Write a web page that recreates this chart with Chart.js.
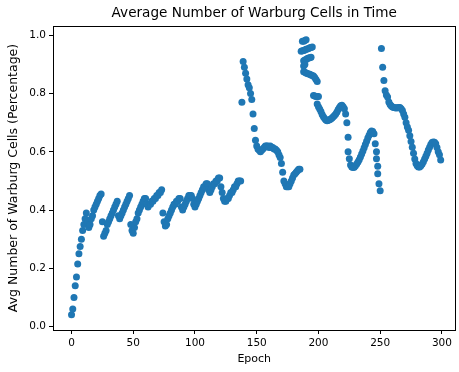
<!DOCTYPE html>
<html>
<head>
<meta charset="utf-8">
<script src="https://cdn.jsdelivr.net/npm/chart.js@4.4.1/dist/chart.umd.min.js"></script>
<style>
  html, body { margin: 0; padding: 0; background: #fff; }
  canvas { display: block; }
</style>
</head>
<body>
<canvas id="warburgChart" width="459" height="372"></canvas>
<script>
// --- data ---
const chartTitle = 'Average Number of Warburg Cells in Time';
const xTitle = 'Epoch';
const yTitle = 'Avg Number of Warburg Cells (Percentage)';

const xTicks = [0, 50, 100, 150, 200, 250, 300];
const yTicks = [0.0, 0.2, 0.4, 0.6, 0.8, 1.0];

// epochs 0..137, one value each
const warmupStart = 0;
const warmupValues = [
  0.04, 0.06, 0.10, 0.14, 0.17, 0.215, 0.25, 0.275, 0.30, 0.33,
  0.35, 0.37, 0.39, 0.36, 0.34, 0.35, 0.37, 0.38, 0.40, 0.41,
  0.42, 0.43, 0.44, 0.45, 0.455, 0.36, 0.31, 0.32, 0.33, 0.35,
  0.36, 0.37, 0.38, 0.39, 0.40, 0.41, 0.42, 0.43, 0.38, 0.37,
  0.38, 0.39, 0.40, 0.41, 0.42, 0.43, 0.44, 0.45, 0.35, 0.33,
  0.32, 0.34, 0.36, 0.37, 0.39, 0.40, 0.41, 0.42, 0.43, 0.44,
  0.44, 0.42, 0.41, 0.42, 0.42, 0.43, 0.43, 0.44, 0.44, 0.45,
  0.45, 0.46, 0.46, 0.47, 0.39, 0.36, 0.345, 0.35, 0.37, 0.38,
  0.39, 0.40, 0.41, 0.42, 0.42, 0.43, 0.43, 0.44, 0.44, 0.41,
  0.40, 0.41, 0.42, 0.43, 0.44, 0.45, 0.45, 0.45, 0.44, 0.42,
  0.41, 0.42, 0.43, 0.44, 0.45, 0.46, 0.47, 0.48, 0.48, 0.49,
  0.49, 0.47, 0.46, 0.47, 0.48, 0.49, 0.49, 0.50, 0.50, 0.51,
  0.51, 0.48, 0.46, 0.44, 0.43, 0.43, 0.44, 0.44, 0.45, 0.46,
  0.46, 0.47, 0.48, 0.48, 0.49, 0.50, 0.50, 0.50
];

// epochs 138..185
const firstBurstStart = 138;
const firstBurstValues = [
  0.77, 0.91, 0.89, 0.87, 0.85, 0.83, 0.82, 0.80, 0.78, 0.73,
  0.68, 0.64, 0.62, 0.61, 0.605, 0.60, 0.605, 0.61, 0.615, 0.62,
  0.62, 0.62, 0.615, 0.62, 0.615, 0.615, 0.61, 0.61, 0.605, 0.60,
  0.59, 0.58, 0.56, 0.53, 0.50, 0.49, 0.48, 0.48, 0.48, 0.49,
  0.50, 0.51, 0.52, 0.525, 0.53, 0.535, 0.54, 0.54
];

// around epoch 190 several values share an epoch, so keep the pairs
const secondBurstEpochs = [
  187, 188, 189, 190,
  186, 187, 188, 189, 190, 191, 192, 193, 194, 195,
  188, 189, 190, 191, 192, 193, 194,
  188, 189,
  188, 189, 190, 191, 192, 193, 194, 195, 196, 197, 198, 199,
  196, 197, 198, 199, 200,
  199, 200, 201, 202, 203, 204, 205, 206, 207, 208,
  209, 210, 211, 212, 213, 214, 215, 216, 217, 218,
  219, 220, 221, 222, 223, 224, 224, 225, 226, 227,
  228, 229, 230, 231, 232, 233, 234, 235, 236, 237,
  238, 239, 240, 241, 242, 243, 244, 245, 246, 247,
  247, 248, 248, 249, 250
];
const secondBurstValues = [
  0.98, 0.98, 0.982, 0.985,
  0.945, 0.947, 0.948, 0.95, 0.952, 0.953, 0.955, 0.957, 0.958, 0.96,
  0.913, 0.915, 0.917, 0.92, 0.922, 0.923, 0.925,
  0.895, 0.90,
  0.875, 0.873, 0.871, 0.869, 0.867, 0.866, 0.864, 0.862, 0.86, 0.855, 0.848, 0.841,
  0.793, 0.792, 0.79, 0.79, 0.79,
  0.764, 0.755, 0.747, 0.738, 0.728, 0.72, 0.714, 0.709, 0.707, 0.708,
  0.71, 0.713, 0.716, 0.72, 0.725, 0.73, 0.737, 0.745, 0.752, 0.758,
  0.76, 0.755, 0.748, 0.73, 0.70, 0.65, 0.60, 0.576, 0.555, 0.548,
  0.546, 0.547, 0.552, 0.558, 0.565, 0.573, 0.582, 0.592, 0.603, 0.614,
  0.625, 0.636, 0.647, 0.657, 0.666, 0.671, 0.67, 0.662, 0.628, 0.60,
  0.576, 0.55, 0.525, 0.49, 0.466
];

// epochs 251..299
const thirdBurstStart = 251;
const thirdBurstValues = [
  0.955, 0.89, 0.845, 0.81, 0.795, 0.788, 0.771, 0.762, 0.757, 0.754,
  0.752, 0.751, 0.75, 0.751, 0.752, 0.752, 0.748, 0.742, 0.73, 0.719,
  0.70, 0.685, 0.674, 0.655, 0.635, 0.616, 0.595, 0.575, 0.56, 0.552,
  0.548, 0.548, 0.552, 0.558, 0.566, 0.575, 0.585, 0.595, 0.606, 0.616,
  0.625, 0.632, 0.634, 0.633, 0.628, 0.615, 0.60, 0.59, 0.572
];

// --- build the point list ---
const points = [];
warmupValues.forEach((v, i) => points.push({ x: warmupStart + i, y: v }));
firstBurstValues.forEach((v, i) => points.push({ x: firstBurstStart + i, y: v }));
secondBurstValues.forEach((v, i) => points.push({ x: secondBurstEpochs[i], y: v }));
thirdBurstValues.forEach((v, i) => points.push({ x: thirdBurstStart + i, y: v }));

const FONT = 'DejaVu Sans';

// title centred on the axes box, like matplotlib does
const axesTitle = {
  id: 'axesTitle',
  afterDraw(chart) {
    const { ctx, chartArea } = chart;
    ctx.save();
    ctx.fillStyle = '#000';
    ctx.font = '13.6px "' + FONT + '"';
    ctx.textAlign = 'center';
    ctx.textBaseline = 'middle';
    ctx.fillText(chartTitle, (chartArea.left + chartArea.right) / 2, 13);
    ctx.restore();
  }
};

// all four spines
const axesFrame = {
  id: 'axesFrame',
  afterDatasetsDraw(chart) {
    const { ctx, chartArea } = chart;
    ctx.save();
    ctx.strokeStyle = '#000';
    ctx.lineWidth = 1;
    ctx.strokeRect(Math.round(chartArea.left) + 0.5, Math.round(chartArea.top) + 0.5,
      Math.round(chartArea.right - chartArea.left) - 1, Math.round(chartArea.bottom - chartArea.top));
    ctx.restore();
  }
};

const ctx = document.getElementById('warburgChart').getContext('2d');
new Chart(ctx, {
  type: 'scatter',
  data: {
    datasets: [{
      data: points,
      backgroundColor: '#1f77b4',
      borderWidth: 0,
      pointRadius: 3.5,
      pointHoverRadius: 3.5
    }]
  },
  options: {
    responsive: false,
    devicePixelRatio: 1,
    animation: false,
    layout: { padding: { top: 26, right: 1, left: 0, bottom: 0 } },
    plugins: {
      legend: { display: false },
      tooltip: { enabled: false },
      title: { display: false }
    },
    scales: {
      x: {
        type: 'linear',
        min: -15,
        max: 311,
        afterBuildTicks: s => { s.ticks = xTicks.map(v => ({ value: v })); },
        afterFit: s => { s.height = 42; },
        grid: { drawOnChartArea: false, drawTicks: true, tickLength: 4, color: '#000' },
        border: { display: true, color: '#000' },
        ticks: { color: '#000', font: { family: FONT, size: 10.5 }, padding: 3, maxRotation: 0 },
        title: { display: true, text: xTitle, color: '#000', font: { family: FONT, size: 11 }, padding: { top: 0, bottom: 6 } }
      },
      y: {
        type: 'linear',
        min: -0.012,
        max: 1.032,
        afterBuildTicks: s => { s.ticks = yTicks.map(v => ({ value: v })); },
        afterFit: s => { s.width = 53; },
        grid: { drawOnChartArea: false, drawTicks: true, tickLength: 4, color: '#000' },
        border: { display: true, color: '#000' },
        ticks: { color: '#000', font: { family: FONT, size: 10.5 }, padding: 3, callback: v => v.toFixed(1) },
        title: { display: true, text: yTitle, color: '#000', font: { family: FONT, size: 12.5 }, padding: { top: 6, bottom: 0 } }
      }
    }
  },
  plugins: [axesTitle, axesFrame]
});
</script>
</body>
</html>
